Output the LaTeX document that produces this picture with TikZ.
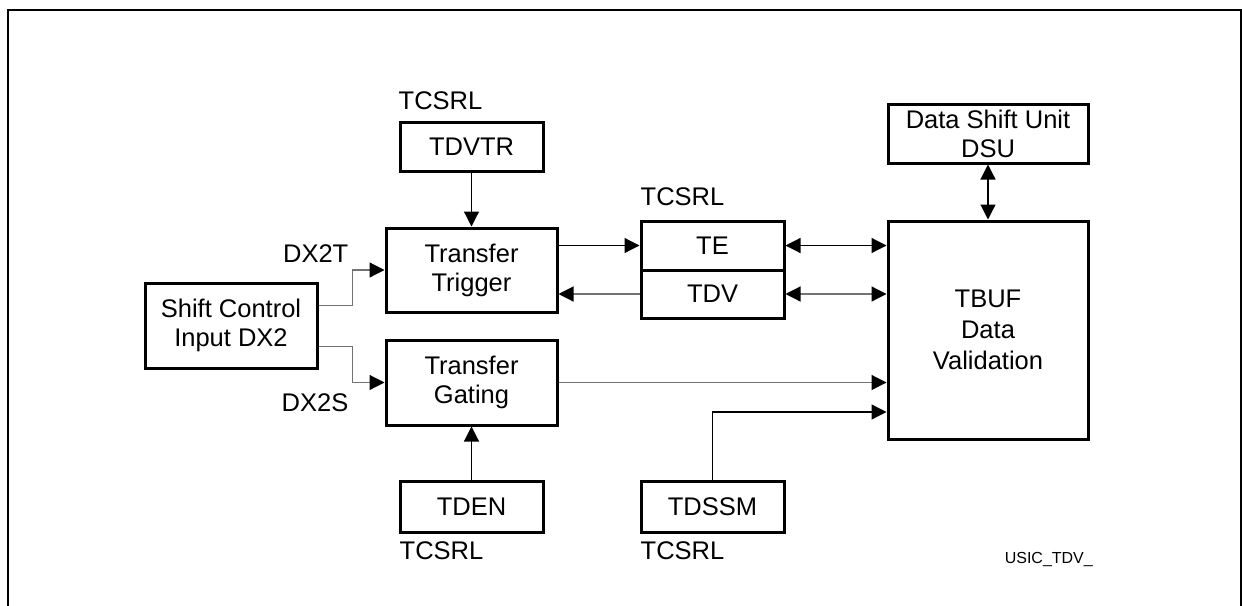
\documentclass[tikz,border=0pt]{standalone}
\usepackage{fontspec}
\setmainfont{Liberation Sans}
\usetikzlibrary{arrows.meta}
\begin{document}
\begin{tikzpicture}[x=1pt,y=-1pt,
  box/.style={draw, line width=3pt, inner sep=0pt, align=center,
    font=\fontsize{25.5}{29}\selectfont},
  lbl/.style={inner sep=0pt, font=\fontsize{25.5}{29}\selectfont},
  conn/.style={line width=1.2pt, -{Triangle[length=15pt,width=15pt,color=black]}},
  gconn/.style={conn, draw=black!55},
  bconn/.style={line width=1.2pt, {Triangle[length=15pt,width=15pt,color=black]}-{Triangle[length=15pt,width=15pt,color=black]}},
  gbconn/.style={bconn, draw=black!55},
  frame/.style={line width=2.3pt}
]
\useasboundingbox (0,0) rectangle (1242,605);
\draw[frame] (8,606) -- (8,10) -- (1241,10) -- (1241,606);

\node[box, minimum width=143pt, minimum height=49pt] (TDVTR) at (471.5,146.5) {TDVTR};
\node[box, minimum width=171pt, minimum height=84pt] (TT) at (471.5,270) {Transfer\\Trigger};
\node[box, minimum width=143pt, minimum height=49pt] (TE) at (712.5,245.5) {TE};
\node[box, minimum width=143pt, minimum height=48pt] (TDV) at (712.5,294) {TDV};
\node[box, minimum width=200pt, minimum height=218pt, font=\fontsize{25.5}{31}\selectfont] (TBUF) at (988,330) {TBUF\\Data\\Validation};
\node[box, minimum width=200pt, minimum height=59pt] (DSU) at (988,133.5) {Data Shift Unit\\DSU};
\node[box, minimum width=172pt, minimum height=85pt] (SC) at (231,325.5) {Shift Control\\Input DX2};
\node[box, minimum width=171pt, minimum height=85pt] (TG) at (471.5,382.5) {Transfer\\Gating};
\node[box, minimum width=143pt, minimum height=51pt] (TDEN) at (471.5,506.5) {TDEN};
\node[box, minimum width=143pt, minimum height=51pt] (TDSSM) at (712.5,506.5) {TDSSM};

\node[lbl, anchor=base west] (l1) at ([yshift=11pt]TDVTR.north west) {TCSRL};
\node[lbl, anchor=base west] (l2) at ([xshift=1pt,yshift=14pt]TE.north west) {TCSRL};
\node[lbl, anchor=base west] (l3) at ([xshift=1pt,yshift=-26pt]TDEN.south west) {TCSRL};
\node[lbl, anchor=base west] (l4) at ([xshift=1pt,yshift=-26pt]TDSSM.south west) {TCSRL};
\node[lbl, anchor=base east] (l5) at ([xshift=-36pt,yshift=8pt]TT.west) {DX2T};
\node[lbl, anchor=base east] (l6) at ([xshift=-36pt,yshift=-28.5pt]TG.west) {DX2S};
\node[inner sep=0pt, anchor=base east, font=\fontsize{16}{18}\selectfont] (usic) at (1093,563) {USIC\_TDV\_};

\draw[conn] (TDVTR.south) -- (TT.north);
\draw[conn] (TT.east |- TE.west) -- (TE.west);
\draw[gconn] (TDV.west) -- (TT.east |- TDV.west);
\draw[bconn] (TE.east) -- (TBUF.west |- TE.east);
\draw[gbconn] (TDV.east) -- (TBUF.west |- TDV.east);
\draw[bconn] (DSU.south) -- (TBUF.north);
\draw[gconn] ([yshift=20pt]SC.east) -- ++(34,0) |- (TT.west);
\draw[gconn] ([yshift=-21pt]SC.east) -- ++(34,0) |- (TG.west);
\draw[gconn] (TG.east) -- (TBUF.west |- TG.east);
\draw[conn] (TDEN.north) -- (TG.south);
\draw[conn] (TDSSM.north) |- ([yshift=-82pt]TBUF.west);
\end{tikzpicture}
\end{document}
